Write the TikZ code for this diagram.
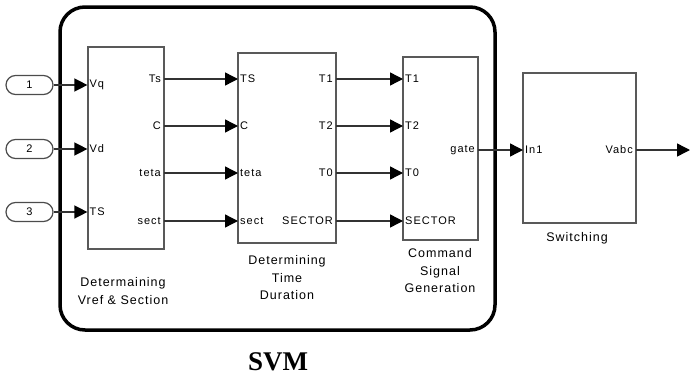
\documentclass[tikz,border=0pt]{standalone}
\usepackage{fontspec}
\setmainfont{Liberation Sans}
\newfontfamily\portfont[LetterSpace=9]{Liberation Sans}
\newfontfamily\labfont[LetterSpace=8]{Liberation Sans}
\newfontfamily\titlefont{Liberation Serif}
\usetikzlibrary{arrows.meta}
\tikzset{
  blk/.style={draw=black!65, line width=1.2pt, rectangle, inner sep=0pt},
  inport/.style={draw=black!70, line width=1.2pt, rectangle, rounded corners=9.5pt,
    minimum width=47pt, minimum height=19pt, inner sep=0pt, font=\portfont\fontsize{11}{12}\selectfont},
  sig/.style={draw=black!80, line width=1.4pt, -{Triangle[length=13pt,width=13pt,color=black]}},
  inlab/.style={anchor=west, inner sep=2pt, font=\portfont\fontsize{11}{12}\selectfont},
  outlab/.style={anchor=east, inner sep=3pt, font=\portfont\fontsize{11}{12}\selectfont},
  blklab/.style={align=center, inner sep=0pt, font=\labfont\fontsize{12.5}{17.5}\selectfont},
  svmbox/.style={draw=black, line width=3.5pt, rounded corners=25pt}
}
\begin{document}
\begin{tikzpicture}[x=1pt,y=-1pt]
\useasboundingbox (0,0) rectangle (690,380);
% SVM subsystem frame
\draw[svmbox] (60,7) rectangle (495,330);
\node[font=\titlefont\bfseries\fontsize{27}{30}\selectfont] (svm) at (278,362) {SVM};

% blocks
\node[blk, minimum width=76pt, minimum height=202pt] (b1) at (126,148) {};
\node[blk, minimum width=98pt, minimum height=190pt] (b2) at (287,148) {};
\node[blk, minimum width=75pt, minimum height=183pt] (b3) at (440.5,148.5) {};
\node[blk, minimum width=113pt, minimum height=150pt] (b4) at (579.5,148) {};

% inports
\node[inport] (in1) at (29.5,85) {1};
\node[inport] (in2) at (29.5,149) {2};
\node[inport] (in3) at (29.5,212) {3};

% port coordinates
\coordinate (b1i1) at (b1.west |- in1);
\coordinate (b1i2) at (b1.west |- in2);
\coordinate (b1i3) at (b1.west |- in3);
\foreach \n/\y in {1/79,2/126,3/173,4/221}{
  \coordinate (b1o\n) at (164,\y);
  \coordinate (b2i\n) at (238,\y);
  \coordinate (b2o\n) at (336,\y);
  \coordinate (b3i\n) at (403,\y);
}
\coordinate (b3o) at (478,150);
\coordinate (b4i) at (523,150);
\coordinate (b4o) at (636,150);
\coordinate (outend) at (690,150);

% signals
\draw[sig] (in1.east) -- (b1i1);
\draw[sig] (in2.east) -- (b1i2);
\draw[sig] (in3.east) -- (b1i3);
\foreach \n in {1,2,3,4}{
  \draw[sig] (b1o\n) -- (b2i\n);
  \draw[sig] (b2o\n) -- (b3i\n);
}
\draw[sig] (b3o) -- (b4i);
\draw[sig] (b4o) -- (outend);

% port labels block 1
\node[inlab] (l1a) at (b1i1) {Vq};
\node[inlab] (l1b) at (b1i2) {Vd};
\node[inlab] (l1c) at (b1i3) {TS};
\node[outlab] (l1d) at (b1o1) {Ts};
\node[outlab] (l1e) at (b1o2) {C};
\node[outlab] (l1f) at (b1o3) {teta};
\node[outlab] (l1g) at (b1o4) {sect};
% block 2
\node[inlab] (l2a) at (b2i1) {TS};
\node[inlab] (l2b) at (b2i2) {C};
\node[inlab] (l2c) at (b2i3) {teta};
\node[inlab] (l2d) at (b2i4) {sect};
\node[outlab] (l2e) at (b2o1) {T1};
\node[outlab] (l2f) at (b2o2) {T2};
\node[outlab] (l2g) at (b2o3) {T0};
\node[outlab] (l2h) at (b2o4) {SECTOR};
% block 3
\node[inlab] (l3a) at (b3i1) {T1};
\node[inlab] (l3b) at (b3i2) {T2};
\node[inlab] (l3c) at (b3i3) {T0};
\node[inlab] (l3d) at (b3i4) {SECTOR};
\node[outlab] (l3e) at (b3o) {gate};
% block 4
\node[inlab] (l4a) at (b4i) {In1};
\node[outlab] (l4b) at (b4o) {Vabc};

% block names
\node[blklab] (n1) at (123,291) {Determaining\\Vref \& Section};
\node[blklab] (n2) at (287,278) {Determining\\Time\\Duration};
\node[blklab] (n3) at (440,271) {Command\\Signal\\Generation};
\node[blklab] (n4) at (577,238) {Switching};
\end{tikzpicture}
\end{document}
